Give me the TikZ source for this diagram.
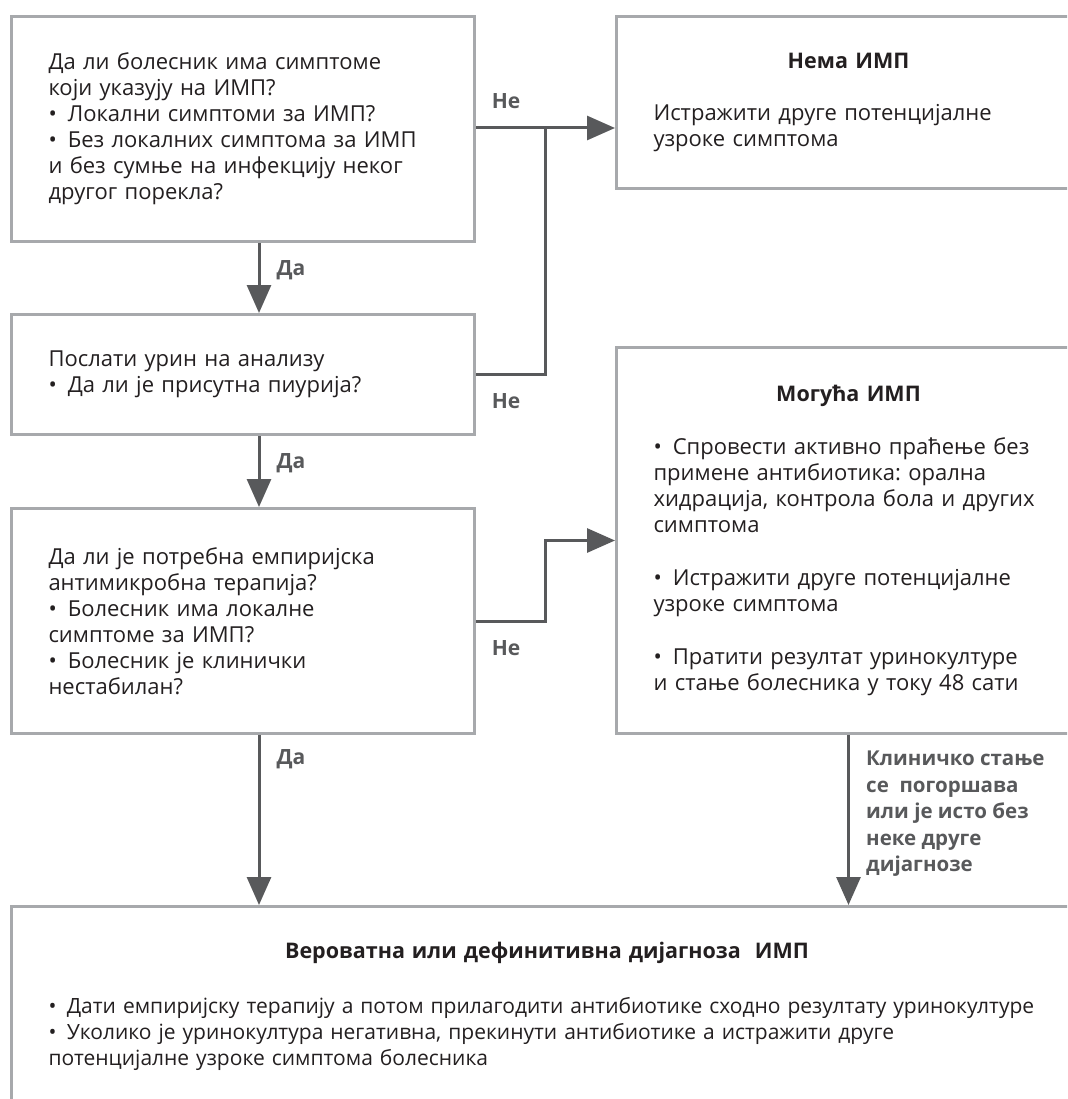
\documentclass[tikz,border=0pt]{standalone}
\usepackage{fontspec}
\setmainfont{Open Sans}
\usepackage{xcolor}
\usetikzlibrary{arrows.meta,positioning}
\definecolor{boxgray}{HTML}{A7A9AC}
\definecolor{flowgray}{HTML}{58595B}
\definecolor{txtgray}{HTML}{231F20}
\newcommand{\bul}{•\hspace{0.5em}}
\newcommand{\boxhead}[1]{{\centering\fontsize{21.5}{26}\selectfont\bfseries #1\par}}
\frenchspacing

\begin{document}
\begin{tikzpicture}[x=1pt,y=-1pt,
		box/.style={draw=boxgray,line width=3pt,anchor=north west,align=left,inner xsep=37pt,inner ysep=0pt,text=txtgray,font=\fontsize{22}{26}\selectfont},
		flow/.style={draw=flowgray,line width=3pt},
		>={Triangle[length=28pt,width=24pt]},
		lbl/.style={text=flowgray,inner sep=0pt,font=\fontsize{21}{26.5}\selectfont\bfseries}]
			\useasboundingbox (0,0) rectangle (1067,1099);
			\clip (0,0) rectangle (1067,1099);
			% left column
			\node[box,text width=389pt,minimum height=225pt] (sympt) at (10,15) {Да ли болесник има симптоме\\ који указују на ИМП?\\ \bul Локални симптоми за ИМП?\\ \bul Без локалних симптома за ИМП\\ и без сумње на инфекцију неког\\ другог порекла?};
			\node[box,text width=389pt,minimum height=120pt] (urine) at (10,313) {Послати урин на анализу\\ \bul Да ли је присутна пиурија?};
			\node[box,text width=389pt,minimum height=225pt] (empir) at (10,507) {Да ли је потребна емпиријска\\ антимикробна терапија?\\ \bul Болесник има локалне\\ симптоме за ИМП?\\ \bul Болесник је клинички\\ нестабилан?};
			% right column
			\node[box,text width=390pt,minimum height=172pt] (noimp) at (615,15) {\boxhead{Нема ИМП}\vspace{26pt}Истражити друге потенцијалне\\ узроке симптома};
			\node[box,text width=390pt,minimum height=386pt] (maybe) at (615,346) {\boxhead{Могућа ИМП}\vspace{27pt}\bul Спровести активно праћење без\\ примене антибиотика: орална\\ хидрација, контрола бола и других\\ симптома\\[27pt] \bul Истражити друге потенцијалне\\ узроке симптома\\[27pt] \bul Пратити резултат уринокултуре\\ и стање болесника у току 48 сати};
			% bottom
			\node[box,text width=997pt,minimum height=200pt,font=\fontsize{21}{26}\selectfont] (diag) at (10,905) {\boxhead{Вероватна или дефинитивна дијагноза\ \ ИМП}\vspace{29pt}\bul Дати емпиријску терапију а потом прилагодити антибиотике сходно резултату уринокултуре\\ \bul Уколико је уринокултура негативна, прекинути антибиотике а истражити друге\\ потенцијалне узроке симптома болесника};

			\coordinate (ax) at (259,0);
			\coordinate (j1) at (545,128);
			\path (maybe.west) ++(-70,0) coordinate (j2);

			\draw[flow,->] (sympt.east |- j1) -- (noimp.west |- j1);
			\draw[flow] (urine.east) -| (j1);
			\draw[flow,->] (empir.east) -| (j2) -- (maybe.west);
			\draw[flow,->] (sympt.south -| ax) -- (urine.north -| ax);
			\draw[flow,->] (urine.south -| ax) -- (empir.north -| ax);
			\draw[flow,->] (empir.south -| ax) -- (diag.north -| ax);
			\draw[flow,->] (maybe.south) -- (maybe.south |- diag.north);

			\node[lbl] (no1) at (506,101) {Не};
			\node[lbl] (no2) at (506,401) {Не};
			\node[lbl] (no3) at (506,648) {Не};
			\node[lbl] (yes1) at (291,270) {Да};
			\node[lbl] (yes2) at (291,463) {Да};
			\node[lbl] (yes3) at (291,759) {Да};
			\node[lbl,anchor=north west,align=left,font=\fontsize{20.5}{26.5}\selectfont\bfseries] (worse) at (866,751) {Клиничко стање\\ се\ \ погоршава\\ или је исто без\\ неке друге\\ дијагнозе};
\end{tikzpicture}
\end{document}
